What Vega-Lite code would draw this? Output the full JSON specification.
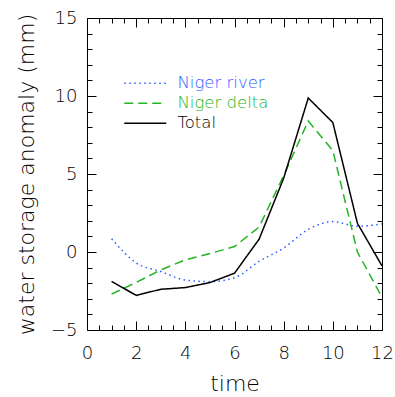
{
  "$schema": "https://vega.github.io/schema/vega-lite/v6.json",
  "width": 295,
  "height": 312,
  "autosize": "none",
  "padding": {"left": 87, "top": 18, "right": 13, "bottom": 67},
  "background": "white",
  "config": {
    "view": {"stroke": "black", "strokeWidth": 1},
    "font": "DejaVu Sans",
    "axis": {"labelFont": "DejaVu Sans", "titleFont": "DejaVu Sans", "labelColor": "#000", "titleColor": "#000", "labelFontWeight": 200, "titleFontWeight": 200},
    "legend": {"labelFont": "DejaVu Sans", "labelFontWeight": 200, "padding": 0}
  },
  "data": {
    "values": [
      {"time": 1, "series": "Niger river", "value": 0.85},
      {"time": 2, "series": "Niger river", "value": -0.7},
      {"time": 3, "series": "Niger river", "value": -1.25},
      {"time": 4, "series": "Niger river", "value": -1.8},
      {"time": 5, "series": "Niger river", "value": -1.9},
      {"time": 6, "series": "Niger river", "value": -1.65},
      {"time": 7, "series": "Niger river", "value": -0.6},
      {"time": 8, "series": "Niger river", "value": 0.25},
      {"time": 9, "series": "Niger river", "value": 1.45},
      {"time": 10, "series": "Niger river", "value": 1.95},
      {"time": 11, "series": "Niger river", "value": 1.65},
      {"time": 12, "series": "Niger river", "value": 1.8},
      {"time": 1, "series": "Niger delta", "value": -2.7},
      {"time": 2, "series": "Niger delta", "value": -1.95},
      {"time": 3, "series": "Niger delta", "value": -1.15},
      {"time": 4, "series": "Niger delta", "value": -0.5},
      {"time": 5, "series": "Niger delta", "value": -0.1},
      {"time": 6, "series": "Niger delta", "value": 0.35},
      {"time": 7, "series": "Niger delta", "value": 1.6},
      {"time": 8, "series": "Niger delta", "value": 4.9},
      {"time": 9, "series": "Niger delta", "value": 8.4},
      {"time": 10, "series": "Niger delta", "value": 6.5},
      {"time": 11, "series": "Niger delta", "value": 0.0},
      {"time": 12, "series": "Niger delta", "value": -2.9},
      {"time": 1, "series": "Total", "value": -1.88},
      {"time": 2, "series": "Total", "value": -2.78},
      {"time": 3, "series": "Total", "value": -2.39},
      {"time": 4, "series": "Total", "value": -2.28},
      {"time": 5, "series": "Total", "value": -1.96},
      {"time": 6, "series": "Total", "value": -1.36},
      {"time": 7, "series": "Total", "value": 0.82},
      {"time": 8, "series": "Total", "value": 4.73},
      {"time": 9, "series": "Total", "value": 9.87},
      {"time": 10, "series": "Total", "value": 8.3},
      {"time": 11, "series": "Total", "value": 1.84},
      {"time": 12, "series": "Total", "value": -0.89}
    ]
  },
  "encoding": {
    "color": {
      "field": "series",
      "type": "nominal",
      "scale": {"domain": ["Niger river", "Niger delta", "Total"], "range": ["#2a5cff", "#22b422", "#000000"]},
      "legend": {
        "title": null,
        "orient": "none",
        "legendX": 34,
        "legendY": 57,
        "symbolType": "M -1 0 L 7.4 0",
        "symbolSize": 100,
        "symbolStrokeWidth": 1.5,
        "labelFontSize": 16.5,
        "labelOffset": 40,
        "rowPadding": 3,
        "encode": {
          "labels": {"update": {"fill": {"signal": "datum.value === 'Niger river' ? '#2a5cff' : datum.value === 'Niger delta' ? '#22b422' : '#000000'"}}},
          "symbols": {"update": {"fill": {"value": "transparent"}, "strokeDash": {"signal": "datum.value === 'Niger river' ? [1.5, 9.5] : datum.value === 'Niger delta' ? [11, 5] : [1, 0]"}}}
        }
      }
    },
    "strokeDash": {
      "field": "series",
      "type": "nominal",
      "scale": {"domain": ["Niger river", "Niger delta", "Total"], "range": [[1.5, 3.5], [9, 5], [1, 0]]},
      "legend": {
        "title": null,
        "orient": "none",
        "legendX": 34,
        "legendY": 57,
        "symbolType": "M -1 0 L 7.4 0",
        "symbolSize": 100,
        "symbolStrokeWidth": 1.5,
        "labelFontSize": 16.5,
        "labelOffset": 40,
        "rowPadding": 3
      }
    }
  },
  "layer": [
    {
      "transform": [{"filter": "datum.series === 'Niger river'"}],
      "mark": {"type": "line", "strokeWidth": 1.5, "interpolate": "monotone"},
      "encoding": {
        "x": {
          "field": "time", "type": "quantitative",
          "scale": {"domain": [0, 12], "nice": false, "zero": false},
          "axis": {
            "orient": "bottom",
            "values": [0, 0.5, 1, 1.5, 2, 2.5, 3, 3.5, 4, 4.5, 5, 5.5, 6, 6.5, 7, 7.5, 8, 8.5, 9, 9.5, 10, 10.5, 11, 11.5, 12],
            "labelExpr": "datum.value % 2 === 0 ? format(datum.value, 'd') : ''",
            "tickSize": {"condition": {"test": "datum.value % 2 === 0", "value": -9}, "value": -5},
            "tickColor": "black",
            "domain": false,
            "grid": false,
            "labelFontSize": 18,
            "labelPadding": 23,
            "labelFlush": false,
            "labelOverlap": false,
            "title": "time",
            "titleFontSize": 22,
            "titlePadding": 7
          }
        },
        "y": {
          "field": "value", "type": "quantitative",
          "scale": {"domain": [-5, 15], "nice": false, "zero": false},
          "axis": {
            "orient": "left",
            "values": [-5, -4, -3, -2, -1, 0, 1, 2, 3, 4, 5, 6, 7, 8, 9, 10, 11, 12, 13, 14, 15],
            "labelExpr": "datum.value % 5 === 0 ? format(datum.value, 'd') : ''",
            "tickSize": {"condition": {"test": "datum.value % 5 === 0", "value": -9}, "value": -5},
            "tickColor": "black",
            "domain": false,
            "grid": false,
            "labelFontSize": 18,
            "labelPadding": 19,
            "labelFlush": false,
            "labelOverlap": false,
            "title": "water storage anomaly (mm)",
            "titleFontSize": 22,
            "titlePadding": 12
          }
        }
      }
    },
    {
      "transform": [{"filter": "datum.series !== 'Niger river'"}],
      "mark": {"type": "line", "strokeWidth": 1.5},
      "encoding": {
        "x": {
          "field": "time", "type": "quantitative",
          "axis": {
            "orient": "top",
            "values": [0, 0.5, 1, 1.5, 2, 2.5, 3, 3.5, 4, 4.5, 5, 5.5, 6, 6.5, 7, 7.5, 8, 8.5, 9, 9.5, 10, 10.5, 11, 11.5, 12],
            "labels": false,
            "tickSize": {"condition": {"test": "datum.value % 2 === 0", "value": -9}, "value": -5},
            "tickColor": "black",
            "domain": false,
            "grid": false,
            "title": null
          }
        },
        "y": {
          "field": "value", "type": "quantitative",
          "axis": {
            "orient": "right",
            "values": [-5, -4, -3, -2, -1, 0, 1, 2, 3, 4, 5, 6, 7, 8, 9, 10, 11, 12, 13, 14, 15],
            "labels": false,
            "tickSize": {"condition": {"test": "datum.value % 5 === 0", "value": -9}, "value": -5},
            "tickColor": "black",
            "domain": false,
            "grid": false,
            "title": null
          }
        }
      }
    }
  ],
  "resolve": {"axis": {"x": "independent", "y": "independent"}}
}
